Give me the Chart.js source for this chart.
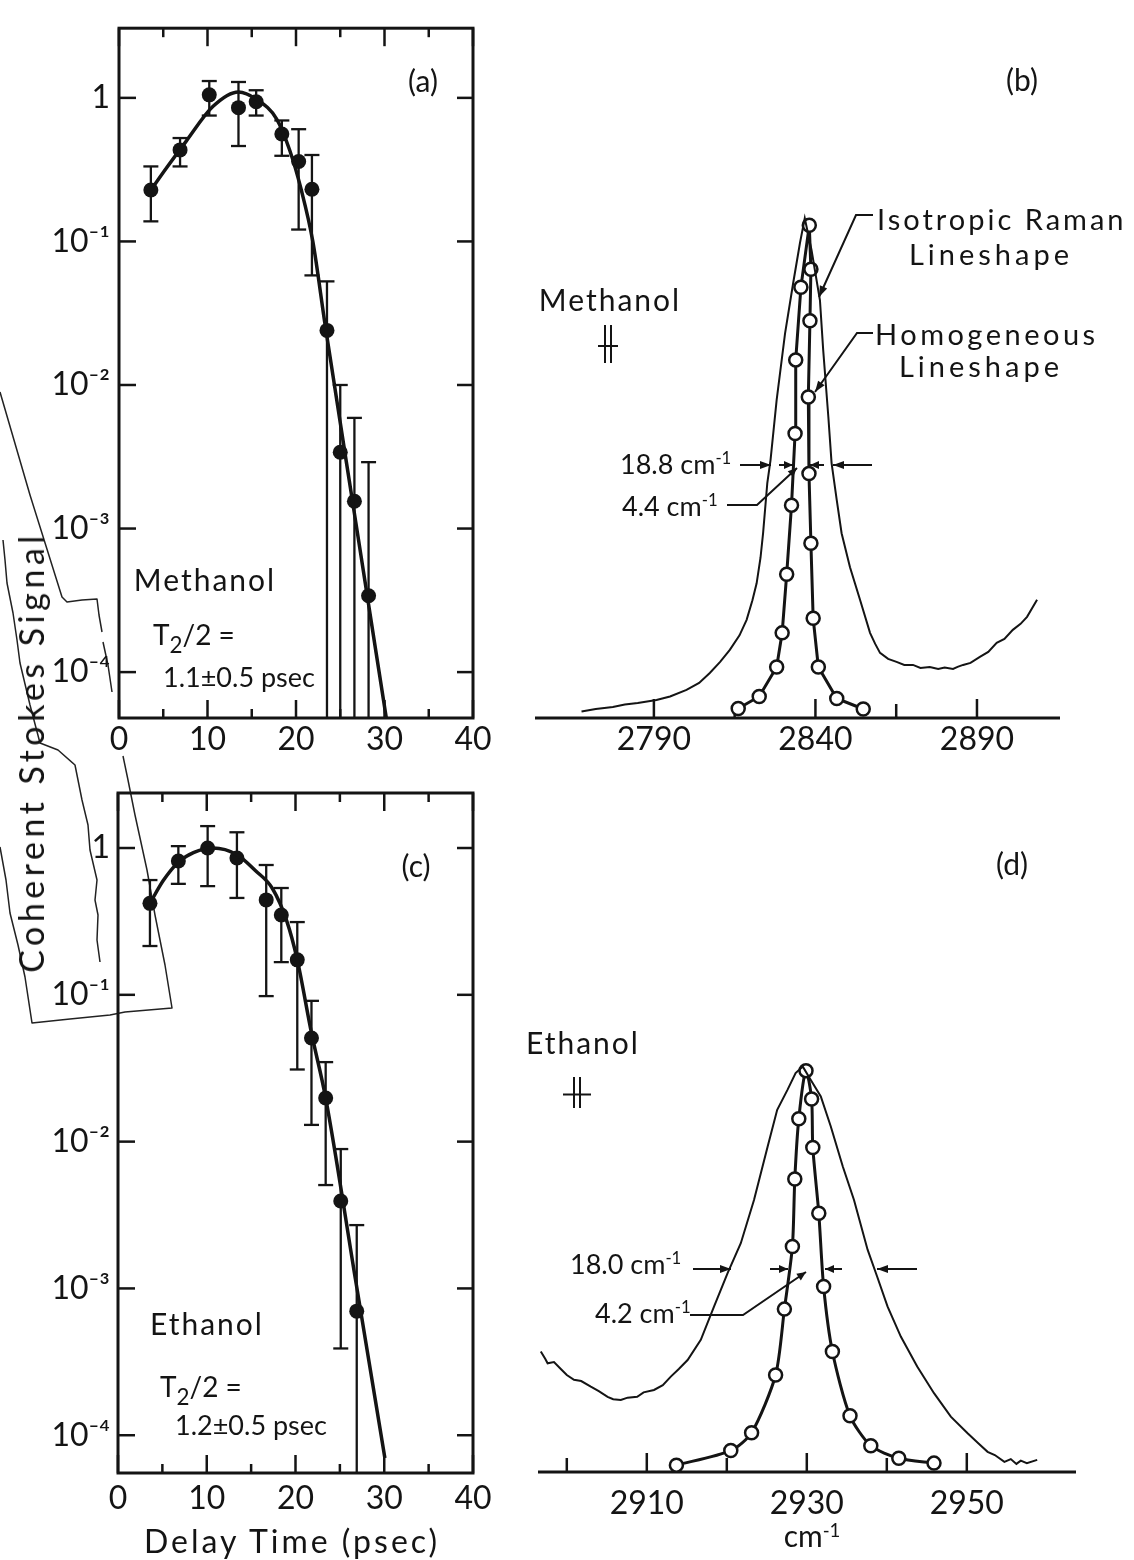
<!DOCTYPE html>
<html>
<head>
<meta charset="utf-8">
<script src="https://cdn.jsdelivr.net/npm/chart.js@4.4.1/dist/chart.umd.min.js"></script>
<style>
html, body { margin: 0; padding: 0; background: #fff; }
#page { position: relative; width: 1134px; height: 1560px; overflow: hidden; background: #fff;
        font-family: Lato, "DejaVu Sans", sans-serif; color: #141414; }
canvas.panel, svg.scan { position: absolute; left: 0; top: 0; }
.c { position: absolute; transform: translate(-50%, -50%); white-space: nowrap; line-height: 1; }
.l { position: absolute; transform: translate(0, -50%); white-space: nowrap; line-height: 1; }
sub { font-size: 0.8em; vertical-align: -0.35em; line-height: 0; }
sup { font-size: 0.62em; vertical-align: 0.55em; line-height: 0; }
</style>
</head>
<body>
<div id="page">
  <!-- torn-paper outline left over from the scan -->
  <svg class="scan" width="1134" height="1560" fill="none" stroke="#222" stroke-width="1.5" stroke-linejoin="round">
    <polyline points="0,392 30,495 62,597 67,602 82,600 97,599 99,615 102,632"/>
    <polyline points="103,642 108,665 112,692"/>
    <polyline points="3,540 5,560 7,583 13,613 17,640 20,663 30,705 40,743 58,750 75,765 79,785 82,800 88,825 90,850 97,880 95,900 98,915 97,940 100,962"/>
    <polyline points="0,847 6,880 10,913 18,945 25,977 32,1023 70,1019 110,1015 125,1012 172,1008 165,965 155,915 147,870 135,815 128,780 123,756"/>
  </svg>

  <canvas id="chartA" class="panel" width="1134" height="1560"></canvas>
  <canvas id="chartB" class="panel" width="1134" height="1560"></canvas>
  <canvas id="chartC" class="panel" width="1134" height="1560"></canvas>
  <canvas id="chartD" class="panel" width="1134" height="1560"></canvas>

  <div class="c" style="left:31px;top:752px;font-size:34px;letter-spacing:4.5px;background:transparent;transform:translate(-50%,-50%) rotate(-90deg)">Coherent Stokes Signal</div>

  <div class="c" style="left:423px;top:80px;font-size:30px">(a)</div>
  <div class="c" style="left:205px;top:579px;font-size:30px;letter-spacing:2px">Methanol</div>
  <div class="l" style="left:153px;top:634px;font-size:28px">T<sub>2</sub>/2 =</div>
  <div class="l" style="left:163px;top:676px;font-size:27px">1.1±0.5 psec</div>

  <div class="c" style="left:416px;top:865px;font-size:30px">(c)</div>
  <div class="c" style="left:207px;top:1323px;font-size:30px;letter-spacing:2px">Ethanol</div>
  <div class="l" style="left:160px;top:1386px;font-size:28px">T<sub>2</sub>/2 =</div>
  <div class="l" style="left:175px;top:1424px;font-size:27px">1.2±0.5 psec</div>
  <div class="c" style="left:292px;top:1541px;font-size:32px;letter-spacing:3px">Delay Time (psec)</div>

  <div class="c" style="left:1022px;top:79px;font-size:30px">(b)</div>
  <div class="c" style="left:610px;top:299px;font-size:30px;letter-spacing:2px">Methanol</div>
  <div class="l" style="left:877px;top:218px;font-size:29px;letter-spacing:3px">Isotropic Raman</div>
  <div class="c" style="left:991px;top:253px;font-size:29px;letter-spacing:4px">Lineshape</div>
  <div class="l" style="left:875px;top:333px;font-size:29px;letter-spacing:3.5px">Homogeneous</div>
  <div class="c" style="left:981px;top:365px;font-size:29px;letter-spacing:4px">Lineshape</div>
  <div class="l" style="left:620px;top:463px;font-size:27px">18.8 cm<sup>-1</sup></div>
  <div class="l" style="left:622px;top:505px;font-size:27px">4.4 cm<sup>-1</sup></div>

  <div class="c" style="left:1012px;top:863px;font-size:30px">(d)</div>
  <div class="c" style="left:583px;top:1042px;font-size:30px;letter-spacing:2px">Ethanol</div>
  <div class="l" style="left:570px;top:1263px;font-size:27px">18.0 cm<sup>-1</sup></div>
  <div class="l" style="left:595px;top:1312px;font-size:27px">4.2 cm<sup>-1</sup></div>
  <div class="c" style="left:812px;top:1535px;font-size:30px">cm<sup>-1</sup></div>
</div>

<script>
// ---- (a) methanol, delay scan ----
const delayA   = [3.6, 6.9, 10.2, 13.5, 15.5, 18.4, 20.3, 21.8, 23.5, 25.0, 26.6, 28.2];
const signalA  = [0.228, 0.434, 1.05, 0.855, 0.94, 0.56, 0.36, 0.231, 0.024, 0.0034, 0.00155, 0.00034];
const errHiA   = [0.333, 0.525, 1.31, 1.29, 1.13, 0.696, 0.605, 0.40, 0.0527, 0.01, 0.0059, 0.0029];
const errLoA   = [0.138, 0.333, 0.753, 0.462, 0.753, 0.395, 0.121, 0.058, null, null, null, null];
const fitDelayA  = [3.6, 5.4, 7.6, 10.6, 13.5, 15.5, 17.8, 19.3, 20.6, 21.9, 23.3, 26.75, 30.2];
const fitSignalA = [0.228, 0.327, 0.5, 0.87, 1.1, 0.98, 0.715, 0.43, 0.228, 0.1, 0.026, 0.00111, 0.000048];

// ---- (c) ethanol, delay scan ----
const delayC   = [3.6, 6.8, 10.1, 13.4, 16.7, 18.4, 20.2, 21.8, 23.4, 25.1, 26.9];
const signalC  = [0.42, 0.815, 1.0, 0.855, 0.443, 0.35, 0.173, 0.0508, 0.0198, 0.00394, 0.0007];
const errHiC   = [0.605, 1.03, 1.41, 1.28, 0.766, 0.534, 0.313, 0.091, 0.0348, 0.0089, 0.0027];
const errLoC   = [0.215, 0.57, 0.55, 0.457, 0.098, 0.167, 0.031, 0.013, 0.00506, 0.00039, null];
const fitDelayC  = [3.6, 5.1, 6.8, 8.5, 10.7, 13.4, 15.5, 17.4, 19.0, 20.2, 21.8, 23.4, 26.75, 30.07];
const fitSignalC = [0.42, 0.6, 0.8, 0.93, 1.0, 0.9, 0.7, 0.53, 0.32, 0.173, 0.055, 0.0198, 0.00116, 0.00007];

const delayTicks = [0, 10, 20, 30, 40];
const signalTicks = [1, 0.1, 0.01, 0.001, 0.0001];
const signalTickLabels = ['1', '10⁻¹', '10⁻²', '10⁻³', '10⁻⁴'];

// ---- (b) methanol lineshapes ----
const ramanXB = [2767.6, 2772.0, 2777.3, 2781.0, 2785.0, 2790.8, 2795.0, 2800.1, 2804.0, 2807.3, 2810.5, 2813.5,
  2816.5, 2818.7, 2820.5, 2821.8, 2823.0, 2823.8, 2825.1, 2826.1, 2828.0, 2830.6, 2833.1, 2835.2, 2836.7,
  2838.8, 2841.4, 2842.4, 2844.0, 2845.0, 2846.6, 2848.1, 2850.7, 2853.8, 2856.9, 2858.5, 2860.0, 2862.5,
  2865.1, 2867.5, 2870.2, 2872.5, 2875.4, 2878.0, 2880.0, 2882.6, 2884.0, 2885.7, 2888.0, 2890.9, 2893.5,
  2896.1, 2898.5, 2901.1, 2903.5, 2905.5, 2908.6];
const ramanYB = [0.013, 0.018, 0.022, 0.027, 0.030, 0.036, 0.043, 0.056, 0.070, 0.090, 0.112, 0.136,
  0.165, 0.196, 0.235, 0.269, 0.320, 0.369, 0.469, 0.515, 0.635, 0.768, 0.868, 0.948, 0.998,
  0.934, 0.834, 0.735, 0.601, 0.509, 0.435, 0.369, 0.301, 0.236, 0.170, 0.148, 0.130, 0.118,
  0.112, 0.106, 0.106, 0.100, 0.102, 0.098, 0.101, 0.098, 0.102, 0.106, 0.110, 0.122, 0.132,
  0.150, 0.158, 0.176, 0.188, 0.202, 0.236];
const homoXB = [2816.1, 2822.6, 2828.0, 2829.7, 2831.1, 2832.6, 2833.7, 2833.9, 2835.5, 2838.1,
  2838.6, 2838.3, 2837.8, 2838.0, 2838.6, 2839.3, 2840.9, 2846.6, 2854.8];
const homoYB = [0.019, 0.043, 0.102, 0.170, 0.287, 0.425, 0.568, 0.715, 0.860, 0.984,
  0.896, 0.793, 0.641, 0.488, 0.349, 0.199, 0.102, 0.039, 0.018];
const shiftTicksB  = [2790, 2815, 2840, 2865, 2890];
const shiftLabelsB = ['2790', '', '2840', '', '2890'];

// ---- (d) ethanol lineshapes ----
const ramanXD = [2896.75, 2897.3, 2897.6, 2898.4, 2899.25, 2900.0, 2900.9, 2901.8, 2903.0, 2904.0, 2905.1,
  2905.8, 2906.75, 2907.6, 2908.8, 2909.6, 2910.9, 2912.0, 2913.0, 2914.0, 2915.1, 2916.75, 2918.4,
  2920.1, 2921.75, 2923.4, 2925.1, 2926.3, 2927.6, 2928.6, 2929.5, 2930.5, 2931.75, 2933.0, 2934.5,
  2935.9, 2937.6, 2938.8, 2940.1, 2941.75, 2943.8, 2945.9, 2948.0, 2950.1, 2951.5, 2952.6, 2953.5,
  2954.7, 2955.5, 2956.2, 2956.75, 2957.5, 2958.8];
const ramanYD = [0.298, 0.280, 0.269, 0.272, 0.255, 0.240, 0.228, 0.225, 0.211, 0.200, 0.186,
  0.180, 0.178, 0.184, 0.186, 0.197, 0.203, 0.215, 0.236, 0.255, 0.277, 0.327, 0.409,
  0.492, 0.566, 0.673, 0.805, 0.896, 0.946, 0.987, 1.003, 0.970, 0.929, 0.855, 0.756,
  0.673, 0.550, 0.483, 0.409, 0.335, 0.261, 0.195, 0.137, 0.096, 0.070, 0.050, 0.042,
  0.025, 0.032, 0.020, 0.028, 0.022, 0.030];
const homoXD = [2913.7, 2920.5, 2923.1, 2926.1, 2927.2, 2928.2, 2928.5, 2929.0, 2929.9,
  2930.6, 2930.75, 2931.5, 2932.1, 2933.2, 2935.4, 2938.0, 2941.5, 2945.9];
const homoYD = [0.017, 0.053, 0.097, 0.240, 0.403, 0.558, 0.725, 0.874, 0.993,
  0.923, 0.803, 0.640, 0.459, 0.298, 0.139, 0.065, 0.034, 0.022];
const shiftTicksD  = [2900, 2910, 2920, 2930, 2940, 2950];
const shiftLabelsD = ['', '2910', '', '2930', '', '2950'];

const INK = '#141414';
const FONT = 'Lato, "DejaVu Sans", sans-serif';
const PAGE_W = 1134, PAGE_H = 1560;

const pts = (xs, ys) => xs.map((x, i) => ({ x, y: ys[i] }));

function layoutPad(area, yW, xH) {
    return { left: area.left - yW, top: area.top, right: PAGE_W - area.right, bottom: PAGE_H - area.bottom - xH };
}

function line(ctx, x1, y1, x2, y2) {
    ctx.beginPath(); ctx.moveTo(x1, y1); ctx.lineTo(x2, y2); ctx.stroke();
}

function arrow(ctx, pts, head = 11) {
    ctx.beginPath();
    ctx.moveTo(pts[0][0], pts[0][1]);
    pts.slice(1).forEach(p => ctx.lineTo(p[0], p[1]));
    ctx.stroke();
    const [xa, ya] = pts[pts.length - 2], [xb, yb] = pts[pts.length - 1];
    const a = Math.atan2(yb - ya, xb - xa);
    ctx.beginPath();
    ctx.moveTo(xb, yb);
    ctx.lineTo(xb - head * Math.cos(a) + 4 * Math.sin(a), yb - head * Math.sin(a) - 4 * Math.cos(a));
    ctx.lineTo(xb - head * Math.cos(a) - 4 * Math.sin(a), yb - head * Math.sin(a) + 4 * Math.cos(a));
    ctx.closePath();
    ctx.fill();
}

// frame, inward ticks and error bars for the delay panels
function decayDecor(xs, hi, lo) {
    return {
        id: 'decayDecor',
        beforeDatasetsDraw(chart) {
            const { ctx, chartArea: a, scales: { x, y } } = chart;
            ctx.save();
            ctx.strokeStyle = INK;
            ctx.lineWidth = 2.5;
            delayTicks.forEach((v, i) => {
                const px = x.getPixelForValue(v);
                line(ctx, px, a.bottom, px, a.bottom - 18);
                line(ctx, px, a.top, px, a.top + 18);
                if (i < delayTicks.length - 1) {
                    const pm = x.getPixelForValue((v + delayTicks[i + 1]) / 2);
                    line(ctx, pm, a.bottom, pm, a.bottom - 9);
                    line(ctx, pm, a.top, pm, a.top + 9);
                }
            });
            signalTicks.forEach(v => {
                const py = y.getPixelForValue(v);
                line(ctx, a.left, py, a.left + 17, py);
                line(ctx, a.right, py, a.right - 16, py);
            });
            ctx.lineWidth = 3;
            ctx.strokeRect(a.left, a.top, a.right - a.left, a.bottom - a.top);

            // error bars
            ctx.lineWidth = 2.3;
            xs.forEach((v, i) => {
                const px = x.getPixelForValue(v);
                const pHi = y.getPixelForValue(hi[i]);
                const pLo = lo[i] === null ? a.bottom : y.getPixelForValue(lo[i]);
                line(ctx, px, pHi, px, pLo);
                line(ctx, px - 7.5, pHi, px + 7.5, pHi);
                if (lo[i] !== null) line(ctx, px - 7.5, pLo, px + 7.5, pLo);
            });
            ctx.restore();
        }
    };
}

function decayChart(id, area, d) {
    return new Chart(document.getElementById(id), {
        type: 'scatter',
        data: {
            datasets: [{
                data: pts(d.fitX, d.fitY),
                showLine: true,
                borderColor: INK,
                borderWidth: 3.5,
                pointRadius: 0,
                cubicInterpolationMode: 'monotone'
            }, {
                data: pts(d.x, d.y),
                pointRadius: 7.5,
                pointBackgroundColor: INK,
                pointBorderColor: INK,
                pointBorderWidth: 0
            }]
        },
        options: {
            responsive: false,
            animation: false,
            events: [],
            layout: { padding: layoutPad(area, 100, 60) },
            plugins: { legend: { display: false }, tooltip: { enabled: false } },
            scales: {
                x: {
                    type: 'linear', min: 0, max: 40,
                    afterFit: s => { s.height = 60; },
                    afterBuildTicks: s => { s.ticks = delayTicks.map(v => ({ value: v })); },
                    grid: { display: false, drawTicks: false },
                    border: { display: false },
                    ticks: { color: INK, font: { family: FONT, size: 32 }, padding: area.xPad, maxRotation: 0,
                             callback: v => String(v) }
                },
                y: {
                    type: 'logarithmic', min: area.yMin, max: area.yMax,
                    afterFit: s => { s.width = 100; },
                    afterBuildTicks: s => { s.ticks = signalTicks.map(v => ({ value: v })); },
                    grid: { display: false, drawTicks: false },
                    border: { display: false },
                    ticks: { color: INK, font: { family: FONT, size: 32 }, padding: area.yPad,
                             callback: v => signalTickLabels[signalTicks.indexOf(v)] }
                }
            }
        },
        plugins: [decayDecor(d.x, d.hi, d.lo)]
    });
}

// axis line, upward ticks and annotations for the lineshape panels
function spectrumDecor(ticks, labels, notes) {
    return {
        id: 'spectrumDecor',
        beforeDatasetsDraw(chart) {
            const { ctx, chartArea: a, scales: { x } } = chart;
            ctx.save();
            ctx.strokeStyle = INK;
            ctx.lineWidth = 2.5;
            ticks.forEach((v, i) => {
                const px = x.getPixelForValue(v);
                line(ctx, px, a.bottom, px, a.bottom - (labels[i] ? 19 : 14));
            });
            ctx.lineWidth = 3;
            line(ctx, a.left, a.bottom, a.right, a.bottom);
            ctx.restore();
        },
        afterDatasetsDraw(chart) {
            const ctx = chart.ctx;
            ctx.save();
            ctx.strokeStyle = INK;
            ctx.fillStyle = INK;
            ctx.lineWidth = 2;
            notes(ctx);
            ctx.restore();
        }
    };
}

function spectrumChart(id, area, d) {
    return new Chart(document.getElementById(id), {
        type: 'scatter',
        data: {
            datasets: [{
                data: pts(d.rx, d.ry),
                showLine: true,
                borderColor: INK,
                borderWidth: 2,
                pointRadius: 0,
                tension: 0
            }, {
                data: pts(d.hx, d.hy),
                showLine: true,
                borderColor: INK,
                borderWidth: 3,
                tension: d.tension,
                pointRadius: 6.5,
                pointBackgroundColor: '#fff',
                pointBorderColor: INK,
                pointBorderWidth: 2.5
            }]
        },
        options: {
            responsive: false,
            animation: false,
            events: [],
            layout: { padding: layoutPad(area, 0, 60) },
            plugins: { legend: { display: false }, tooltip: { enabled: false } },
            scales: {
                x: {
                    type: 'linear', min: area.xMin, max: area.xMax,
                    afterFit: s => { s.height = 60; },
                    afterBuildTicks: s => { s.ticks = d.ticks.map(v => ({ value: v })); },
                    grid: { display: false, drawTicks: false },
                    border: { display: false },
                    ticks: { color: INK, font: { family: FONT, size: 32 }, padding: area.xPad, maxRotation: 0,
                             callback: v => d.labels[d.ticks.indexOf(v)] }
                },
                y: { display: false, min: 0, max: 1.2 }
            }
        },
        plugins: [spectrumDecor(d.ticks, d.labels, d.notes)]
    });
}

function polarizer(ctx, cx, top, bottom, half) {
    const mid = (top + bottom) / 2 + 2;
    line(ctx, cx - 3, top, cx - 3, bottom);
    line(ctx, cx + 3, top, cx + 3, bottom);
    line(ctx, cx - half, mid, cx + half, mid);
}

decayChart('chartA', { left: 119, top: 15, right: 473, bottom: 718, yMin: 4.79e-5, yMax: 3.057, xPad: 2, yPad: 9 }, {
    x: delayA, y: signalA, hi: errHiA, lo: errLoA, fitX: fitDelayA, fitY: fitSignalA
});

decayChart('chartC', { left: 118, top: 793, right: 473, bottom: 1473, yMin: 5.53e-5, yMax: 2.37, xPad: 6, yPad: 8 }, {
    x: delayC, y: signalC, hi: errHiC, lo: errLoC, fitX: fitDelayC, fitY: fitSignalC
});

spectrumChart('chartB', { left: 535, top: 117, right: 1060, bottom: 718, xMin: 2753.2, xMax: 2915.7, xPad: 2 }, {
    rx: ramanXB, ry: ramanYB, hx: homoXB, hy: homoYB, tension: 0,
    ticks: shiftTicksB, labels: shiftLabelsB,
    notes: ctx => {
        polarizer(ctx, 608, 325, 363, 10);
        arrow(ctx, [[740, 465], [771, 465]]);
        arrow(ctx, [[779, 465], [793, 465]], 9);
        arrow(ctx, [[824, 465], [810, 465]], 9);
        arrow(ctx, [[872, 465], [833, 465]]);
        arrow(ctx, [[727, 505], [757, 505], [797, 468]], 9);
        arrow(ctx, [[873, 215], [856, 215], [819, 297]]);
        arrow(ctx, [[873, 333], [857, 333], [815, 392]]);
    }
});

spectrumChart('chartD', { left: 538, top: 987, right: 1076, bottom: 1472, xMin: 2896.4, xMax: 2963.65, xPad: 12 }, {
    rx: ramanXD, ry: ramanYD, hx: homoXD, hy: homoYD, tension: 0.25,
    ticks: shiftTicksD, labels: shiftLabelsD,
    notes: ctx => {
        polarizer(ctx, 577, 1077, 1108, 14);
        arrow(ctx, [[693, 1269], [731, 1269]]);
        arrow(ctx, [[770, 1269], [788, 1269]], 9);
        arrow(ctx, [[842, 1269], [825, 1269]], 9);
        arrow(ctx, [[917, 1269], [877, 1269]]);
        arrow(ctx, [[690, 1315], [743, 1315], [806, 1272]], 9);
    }
});
</script>
</body>
</html>
